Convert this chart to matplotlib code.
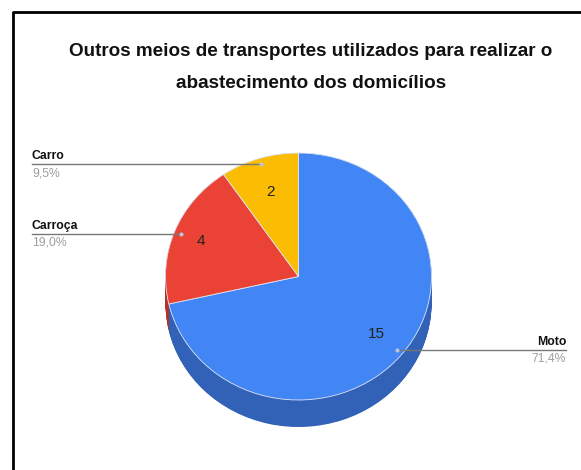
import matplotlib.pyplot as plt
from matplotlib.lines import Line2D
import numpy as np

# dados
categorias = ["Moto", "Carroça", "Carro"]
valores = [15, 4, 2]
cores = ["#4285f4", "#ea4335", "#fbbc04"]
cores_lado = ["#3261b8", "#b3332a", "#c49204"]
titulo = ["Outros meios de transportes utilizados para realizar o",
          "abastecimento dos domicílios"]

fonte = ["Liberation Sans", "DejaVu Sans"]

W, H = 581, 470
fig = plt.figure(figsize=(W / 100, H / 100), dpi=100)
fig.patch.set_facecolor("white")

# eixo da pizza (elipse: raio x 133px, raio y 123px)
cx, cy, rx, ry = 298.5, 276.5, 133, 123.5
ax = fig.add_axes([(cx - 1.25 * rx) / W, (H - cy - 1.25 * ry) / H,
                   2.5 * rx / W, 2.5 * ry / H])

total = sum(valores)
# lateral 3D: varias copias escuras deslocadas para baixo
prof = 27 / ry
n = 40
for i in range(n + 1):
    d = prof * (n - i) / n
    ax.pie(valores, colors=cores_lado, startangle=90, counterclock=False,
           center=(0, -d), radius=1, wedgeprops=dict(linewidth=0))
w, _ = ax.pie(valores, colors=cores, startangle=90, counterclock=False,
              center=(0, 0), radius=1,
              wedgeprops=dict(linewidth=0.6, edgecolor="#dfe7f5"))
ax.set_aspect("auto")
ax.set_xlim(-1.25, 1.25)
ax.set_ylim(-1.25, 1.25)
ax.axis("off")

# angulo do meio de cada fatia
ang0 = 90
meio = {}
for cat, v in zip(categorias, valores):
    meio[cat] = ang0 - 360 * v / total / 2
    ang0 -= 360 * v / total

# rotulos de valor dentro das fatias
dist_val = {"Moto": 0.75, "Carroça": 0.79, "Carro": 0.72}
for cat, v in zip(categorias, valores):
    a = np.radians(meio[cat])
    ax.text(dist_val[cat] * np.cos(a), dist_val[cat] * np.sin(a), str(v),
            ha="center", va="center", fontsize=11, color="#222222",
            family=fonte)

# camada de sobreposicao em pixels
ov = fig.add_axes([0, 0, 1, 1], zorder=5)
ov.set_xlim(0, W)
ov.set_ylim(H, 0)
ov.axis("off")
ov.patch.set_alpha(0)

# borda
ov.add_line(Line2D([13, 13, W + 5], [H + 5, 12, 12], color="black", lw=2))

for linha, y in zip(titulo, [52, 84]):
    ov.text(311, y, linha, ha="center", va="center", fontsize=13.6,
            fontweight="bold", family=fonte, color="#111111")

# linhas de chamada e legendas
def px(cat, r):
    a = np.radians(meio[cat])
    return cx + r * rx * np.cos(a), cy - r * ry * np.sin(a)

perc = [f"{100 * v / total:.1f}".replace(".", ",") + "%" for v in valores]
ponta = {"Carro": (32, "left"), "Carroça": (32, "left"), "Moto": (566, "right")}
for cat, p in zip(categorias, perc):
    x0, ha = ponta[cat]
    x1, y1 = px(cat, 0.95)
    ov.plot([x0, x1], [y1, y1], color="#777777", lw=1)
    ov.plot([x1], [y1], "o", ms=3, color="#b8c4d8", mec="none")
    ov.text(x0, y1 - 2, cat, ha=ha, va="bottom", fontsize=8.8,
            fontweight="bold", family=fonte, color="#111111")
    ov.text(x0, y1 + 3, p, ha=ha, va="top", fontsize=8.8,
            family=fonte, color="#9e9e9e")

fig.savefig("out.png", dpi=100, facecolor="white")
